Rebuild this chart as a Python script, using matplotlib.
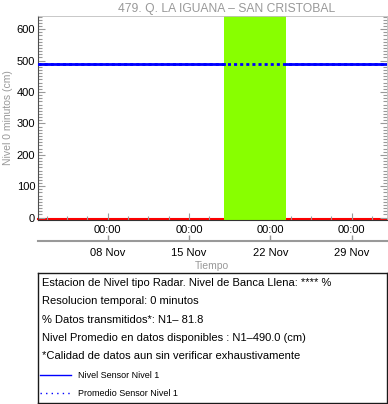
from datetime import datetime
import numpy as np
import matplotlib
matplotlib.use("Agg")
from matplotlib import pyplot as plt
import matplotlib.dates as mdates
from matplotlib.ticker import MultipleLocator
from matplotlib.lines import Line2D

plt.rcParams['font.family'] = ['Liberation Sans', 'DejaVu Sans']

titulo = "479. Q. LA IGUANA \u2013 SAN CRISTOBAL"

# serie nivel sensor 1 (hueco sin datos en medio)
tiempos = [datetime(2020, 11, 2), datetime(2020, 11, 18), datetime(2020, 11, 18),
           datetime(2020, 11, 23, 9), datetime(2020, 12, 2)]
nivel = [490, 490, np.nan, 490, 490]
promedio = 490.0
banca = -5  # linea roja al fondo

hueco_ini = datetime(2020, 11, 18)
hueco_fin = datetime(2020, 11, 23, 9)

t_ini = datetime(2020, 11, 2)
t_fin = datetime(2020, 12, 2)

ticks_mayores = [datetime(2020, 11, 8), datetime(2020, 11, 15),
                 datetime(2020, 11, 22), datetime(2020, 11, 29)]

lineas_info = [
    "Estacion de Nivel tipo Radar. Nivel de Banca Llena: **** %",
    "Resolucion temporal: 0 minutos",
    "% Datos transmitidos*: N1\u2013 81.8",
    "Nivel Promedio en datos disponibles : N1\u2013490.0 (cm)",
    "*Calidad de datos aun sin verificar exhaustivamente",
]

gris = '0.6'

fig = plt.figure(figsize=(3.88, 4.04), dpi=100)
ax = fig.add_axes([38/388, 1 - 219.5/404, 348.5/388, 203.5/404])

ax.axvspan(hueco_ini, hueco_fin, color='#88ff00', zorder=2, lw=0)
ax.plot([t_ini, t_fin], [banca, banca], color='red', lw=1.5, zorder=1, clip_on=False)
ax.plot(tiempos, nivel, color='blue', lw=2, zorder=3)
ax.plot([t_ini, t_fin], [promedio, promedio], color='blue', lw=2,
        linestyle=(0, (1.1, 1.1)), zorder=4)

ax.set_xlim(t_ini, t_fin)
ax.set_ylim(-6, 642)
ax.yaxis.set_major_locator(MultipleLocator(100))
ax.yaxis.set_minor_locator(MultipleLocator(10))
ax.xaxis.set_major_locator(plt.FixedLocator(mdates.date2num(ticks_mayores)))
off = mdates.date2num(ticks_mayores[0]) % 1.75
ax.xaxis.set_minor_locator(MultipleLocator(1.75, offset=off))
ax.xaxis.set_major_formatter(mdates.DateFormatter('%H:%M'))

ax.tick_params(which='both', direction='in', top=True, right=True, colors=gris,
               labelcolor='black', labelsize=8)
ax.tick_params(which='major', length=5, width=0.8)
ax.tick_params(which='minor', length=3, width=0.8)
ax.tick_params(axis='x', pad=4)
ax.tick_params(axis='y', pad=2)
for s in ['top', 'right']:
    ax.spines[s].set_color('0.75')
    ax.spines[s].set_linewidth(0.6)
ax.spines['left'].set_color('0.3')
ax.spines['bottom'].set_color('0.2')

ax.set_title(titulo, color=gris, fontsize=8.75, pad=3, x=0.541)
ax.set_ylabel("Nivel 0 minutos (cm)", color=gris, fontsize=7.5, labelpad=3)

# segundo eje de fechas
ax2 = ax.twiny()
ax2.set_xlim(ax.get_xlim())
ax2.xaxis.set_ticks_position('bottom')
ax2.xaxis.set_label_position('bottom')
ax2.spines['bottom'].set_position(('outward', 15.5))
for s in ['top', 'left', 'right']:
    ax2.spines[s].set_visible(False)
ax2.spines['bottom'].set_color(gris)
ax2.spines['bottom'].set_linewidth(1.5)
ax2.xaxis.set_major_locator(plt.FixedLocator(mdates.date2num(ticks_mayores)))
ax2.xaxis.set_major_formatter(mdates.DateFormatter('%d %b'))
ax2.tick_params(direction='in', length=4, width=1, colors=gris, labelcolor='black',
                labelsize=8, pad=5)
ax2.set_xlabel("Tiempo", color=gris, fontsize=7.5, labelpad=2)

# caja informativa
axi = fig.add_axes([37.5/388, 1 - 403/404, 349/388, 130/404])
axi.set_xticks([])
axi.set_yticks([])
for s in axi.spines.values():
    s.set_color('0.1')
    s.set_linewidth(1)
for i, txt in enumerate(lineas_info):
    axi.text(4.5/349, 1 - (10 + 18.3*i)/130, txt, transform=axi.transAxes,
             fontsize=8, va='center', ha='left')

manejadores = [Line2D([], [], color='blue', lw=1, label='Nivel Sensor Nivel 1'),
               Line2D([], [], color='blue', lw=1, linestyle=(0, (1, 3)),
                      label='Promedio Sensor Nivel 1')]
axi.legend(handles=manejadores, loc='upper left', bbox_to_anchor=(0, 1 - 96/130),
           frameon=False, fontsize=6.5, handlelength=3.5, handletextpad=0.7,
           borderaxespad=0, borderpad=0.25, labelspacing=1.0)

fig.savefig('out.png', dpi=100)
